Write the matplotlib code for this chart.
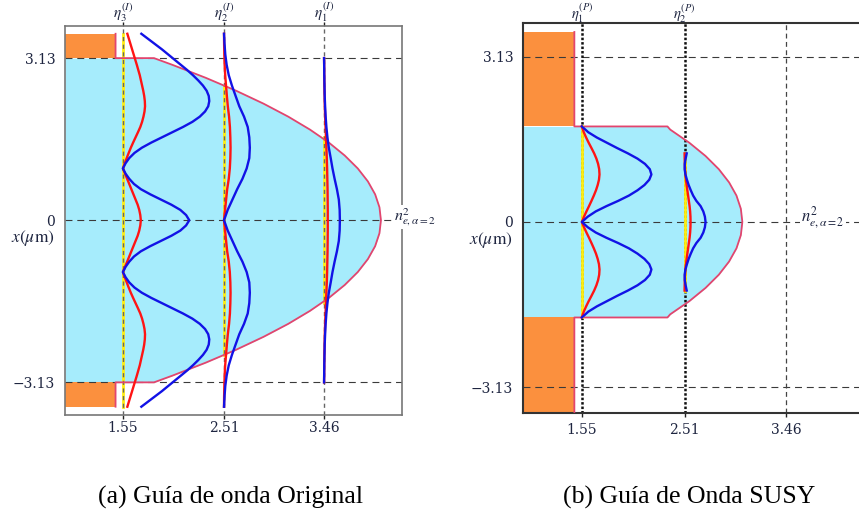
import numpy as np
import matplotlib.pyplot as plt
import matplotlib.transforms as mtransforms

plt.rcParams['font.family'] = ['DejaVu Serif', 'Liberation Serif']
plt.rcParams['mathtext.fontset'] = 'stix'
plt.rcParams['lines.scale_dashes'] = False

# --- data -------------------------------------------------------------
eta_a = [1.55, 2.51, 3.46]
eta_b = [1.55, 2.51]
eta_a_labels = [r'$\eta_3^{(I)}$', r'$\eta_2^{(I)}$', r'$\eta_1^{(I)}$']
eta_b_labels = [r'$\eta_1^{(P)}$', r'$\eta_2^{(P)}$']
x_ticks = [1.55, 2.51, 3.46]
y_ticks = [-3.13, 0, 3.13]
y_labels = ['\u22123.13', '0', '3.13']

x_edge = 3.13     # core half width
x_end = 3.6       # end of plotted window
n_clad = 1.48     # cladding index^2
n_left = 1.0

# refractive index profile n^2(x), half profile x >= 0
prof_a_x = [0, 0.25, 0.5, 0.75, 1.0, 1.25, 1.5, 1.75, 2.0, 2.25, 2.5, 2.75, 3.0, 3.13]
prof_a_n = [4.00, 3.986, 3.945, 3.876, 3.78, 3.656, 3.505, 3.326, 3.12, 2.886,
            2.625, 2.336, 2.02, 1.845]
prof_b_x = [0, 0.25, 0.5, 0.75, 1.0, 1.25, 1.5, 1.75, 1.81]
prof_b_n = [3.05, 3.036, 2.995, 2.926, 2.83, 2.706, 2.555, 2.376, 2.35]
core_b = 1.81

# |psi| of each mode (offset from its eta), half profiles x >= 0
pos_a3 = [0.0, 0.1, 0.2, 0.3, 0.4, 0.5, 0.6, 0.7, 0.8, 0.9, 1.0, 1.1, 1.2,
          1.3, 1.4, 1.5, 1.6, 1.7, 1.8, 1.9, 2.0, 2.1, 2.2, 2.3, 2.4, 2.5,
          2.6, 2.7, 2.8, 2.9, 3.0, 3.1, 3.2, 3.3, 3.4, 3.5, 3.6]
blue_a3 = [0.63, 0.60, 0.545, 0.46, 0.36, 0.26, 0.17, 0.105, 0.06, 0.025,
           0.0, 0.025, 0.06, 0.11, 0.18, 0.27, 0.37, 0.47, 0.57, 0.66, 0.73,
           0.78, 0.81, 0.82, 0.815, 0.795, 0.76, 0.715, 0.665, 0.61, 0.55,
           0.49, 0.43, 0.37, 0.305, 0.24, 0.175]
red_a3 = [0.17, 0.165, 0.155, 0.14, 0.12, 0.10, 0.08, 0.06, 0.04, 0.02, 0.0,
          0.018, 0.036, 0.055, 0.075, 0.097, 0.12, 0.143, 0.165, 0.182, 0.195,
          0.205, 0.21, 0.208, 0.202, 0.193, 0.182, 0.171, 0.16, 0.146, 0.132,
          0.117, 0.102, 0.087, 0.072, 0.057, 0.042]

pos_a2 = [0.0, 0.2, 0.4, 0.6, 0.8, 1.0, 1.2, 1.4, 1.6, 1.8, 2.0, 2.2, 2.4,
          2.6, 2.8, 3.0, 3.2, 3.4, 3.6]
blue_a2 = [0.0, 0.035, 0.08, 0.125, 0.175, 0.215, 0.24, 0.245, 0.24, 0.225,
           0.19, 0.145, 0.11, 0.075, 0.045, 0.025, 0.012, 0.005, 0.0]
red_a2 = [0.0, 0.01, 0.02, 0.03, 0.045, 0.055, 0.06, 0.062, 0.06, 0.056,
          0.048, 0.036, 0.027, 0.019, 0.011, 0.006, 0.003, 0.001, 0.0]

pos_a1 = [0.0, 0.2, 0.4, 0.6, 0.8, 1.0, 1.2, 1.4, 1.6, 1.8, 2.0, 2.2, 2.4,
          2.6, 2.8, 3.0, 3.13]
blue_a1 = [0.150, 0.148, 0.14, 0.122, 0.10, 0.08, 0.063, 0.045, 0.032, 0.022,
           0.015, 0.01, 0.006, 0.004, 0.002, 0.001, 0.0]
red_a1 = [0.035, 0.035, 0.034, 0.033, 0.031, 0.029, 0.026, 0.022, 0.018,
          0.014, 0.010, 0.007, 0.005, 0.003, 0.002, 0.001, 0.0]

pos_b1 = [0.0, 0.1, 0.2, 0.3, 0.4, 0.5, 0.6, 0.7, 0.8, 0.9, 1.0, 1.1, 1.2,
          1.3, 1.4, 1.5, 1.6, 1.7, 1.81]
blue_b1 = [0.0, 0.055, 0.13, 0.23, 0.34, 0.44, 0.52, 0.585, 0.63, 0.65,
           0.635, 0.59, 0.52, 0.43, 0.33, 0.235, 0.14, 0.06, 0.0]
red_b1 = [0.0, 0.02, 0.043, 0.067, 0.09, 0.112, 0.132, 0.148, 0.16, 0.165,
          0.162, 0.152, 0.136, 0.115, 0.09, 0.064, 0.04, 0.018, 0.0]

pos_b2 = [0.0, 0.1, 0.2, 0.3, 0.4, 0.5, 0.6, 0.7, 0.8, 0.9, 1.0, 1.1, 1.2, 1.3]
blue_b2 = [0.196, 0.19, 0.175, 0.15, 0.11, 0.08, 0.058, 0.038, 0.022, 0.008,
           0.001, 0.002, 0.01, 0.02]
red_b2 = [0.056, 0.055, 0.052, 0.047, 0.04, 0.033, 0.026, 0.019, 0.013,
          0.008, 0.004, 0.002, 0.001, 0.0]

# extent of the allowed region (yellow level line) for each mode
yellow_a = [3.6, 2.6, 1.6]
yellow_b = [1.81, 1.3]

# --- colours ------------------------------------------------------------
C_CORE = '#a6ecfc'
C_CLAD = '#fb903e'
C_EDGE = '#e2456e'
C_BLUE = '#1212e6'
C_RED = '#ff1414'
C_YEL = '#ffee10'
C_TXT = '#1e2540'


def full(pos, val):
    """Mirror a half profile (x >= 0) onto -x."""
    pos = np.asarray(pos, float)
    val = np.asarray(val, float)
    return (np.concatenate([-pos[:0:-1], pos]),
            np.concatenate([val[:0:-1], val]))


def draw_guide(ax, px, pn, core_top):
    y, n = full(px, pn)
    ax.fill_betweenx(y, n_left, n, color=C_CORE, lw=0, zorder=1)
    for s in (1, -1):
        lo, hi = sorted([s * core_top, s * x_end])
        ax.fill_betweenx([lo, hi], n_left, n_clad, color=C_CLAD, lw=0, zorder=1)
    ey = np.concatenate([[x_end, core_top], y[::-1], [-core_top, -x_end]])
    en = np.concatenate([[n_clad, n_clad], n[::-1], [n_clad, n_clad]])
    ax.plot(en, ey, color=C_EDGE, lw=1.3, zorder=3)


def draw_mode(ax, eta, pos, blue, red, ylim, yz=2.4):
    ax.plot([eta, eta], [-ylim, ylim], color=C_YEL, lw=2.0, zorder=yz)
    y, r = full(pos, red)
    ax.plot(eta + r, y, color=C_RED, lw=1.7, zorder=4)
    y, b = full(pos, blue)
    ax.plot(eta + b, y, color=C_BLUE, lw=1.7, zorder=5)


def style_axes(ax, spine_color, spine_lw, xpad):
    ax.set_xlim(1.0, 4.2)
    ax.set_xticks(x_ticks, labels=[f'{v:.2f}' for v in x_ticks])
    ax.set_yticks(y_ticks, labels=y_labels)
    ax.tick_params(axis='x', direction='out', length=3, width=1,
                   labelsize=10, colors='#222', labelcolor=C_TXT, pad=xpad)
    ax.tick_params(axis='y', length=0, labelsize=10, labelcolor=C_TXT, pad=7)
    for sp in ax.spines.values():
        sp.set_color(spine_color)
        sp.set_linewidth(spine_lw)
    for y in y_ticks:
        ax.axhline(y, color='#3a3a3a', lw=0.8, dashes=(5, 3.5), zorder=2)


def eta_labels(ax, etas, labels, y_axes, size):
    trans = mtransforms.blended_transform_factory(ax.transData, ax.transAxes)
    for e, lab in zip(etas, labels):
        ax.text(e, y_axes, lab, transform=trans, fontsize=size, color=C_TXT,
                ha='center', va='baseline', clip_on=False)


fig = plt.figure(figsize=(8.59, 5.16), dpi=100)

# --- (a) original guide ----------------------------------------------------
ax_a = fig.add_axes([65 / 859, 1 - 415 / 516, 337 / 859, 389 / 516])
ax_a.set_ylim(-3.76, 3.75)
draw_guide(ax_a, prof_a_x, prof_a_n, x_edge)
modes_a = [(pos_a3, blue_a3, red_a3), (pos_a2, blue_a2, red_a2),
           (pos_a1, blue_a1, red_a1)]
for eta, (p, b, r), yl in zip(eta_a, modes_a, yellow_a):
    draw_mode(ax_a, eta, p, b, r, yl)
    ax_a.axvline(eta, color='#666666', lw=1.0, dashes=(3, 2.5), zorder=2.5)
style_axes(ax_a, '#777777', 1.2, 1)
ax_a.tick_params(axis='x', which='both', top=True)
eta_labels(ax_a, eta_a, eta_a_labels, 1.022, 11)
ax_a.text(4.12, 0.06, r'$n^2_{e,\alpha=2}$', fontsize=11.5, color=C_TXT,
          ha='left', va='center', clip_on=False, zorder=10,
          bbox=dict(facecolor='white', edgecolor='none', pad=1))
fig.text(33 / 859, 1 - 238 / 516, r'$x(\mu\mathrm{m})$', fontsize=12.5,
         color=C_TXT, ha='center', va='center')

# --- (b) SUSY partner guide ------------------------------------------------
ax_b = fig.add_axes([523 / 859, 1 - 413 / 516, 342.4 / 859, 390 / 516])
ax_b.set_ylim(-3.62, 3.77)
draw_guide(ax_b, prof_b_x, prof_b_n, core_b)
for eta in eta_b:
    ax_b.axvline(eta, color='#111111', lw=1.8, dashes=(1.8, 1.4), zorder=2.2)
ax_b.axvline(3.46, color='#444444', lw=0.9, dashes=(3.5, 2.5), zorder=2.2)
modes_b = [(pos_b1, blue_b1, red_b1), (pos_b2, blue_b2, red_b2)]
for eta, (p, b, r), yl in zip(eta_b, modes_b, yellow_b):
    draw_mode(ax_b, eta, p, b, r, yl, yz=3.5)
style_axes(ax_b, '#333333', 1.5, 4)
eta_labels(ax_b, eta_b, eta_b_labels, 1.01, 10.5)
ax_b.text(3.6, 0.07, r'$n^2_{e,\alpha=2}$', fontsize=12, color=C_TXT,
          ha='left', va='center', zorder=10,
          bbox=dict(facecolor='white', edgecolor='none', pad=1))
fig.text(491 / 859, 1 - 240 / 516, r'$x(\mu\mathrm{m})$', fontsize=12.5,
         color=C_TXT, ha='center', va='center')

# captions
fig.text(230 / 859, 1 - 497 / 516, '(a) Guía de onda Original', fontsize=18.5,
         family='Liberation Serif', ha='center', va='center')
fig.text(689 / 859, 1 - 497 / 516, '(b) Guía de Onda SUSY', fontsize=18.5,
         family='Liberation Serif', ha='center', va='center')

fig.savefig('out.png', dpi=100)
